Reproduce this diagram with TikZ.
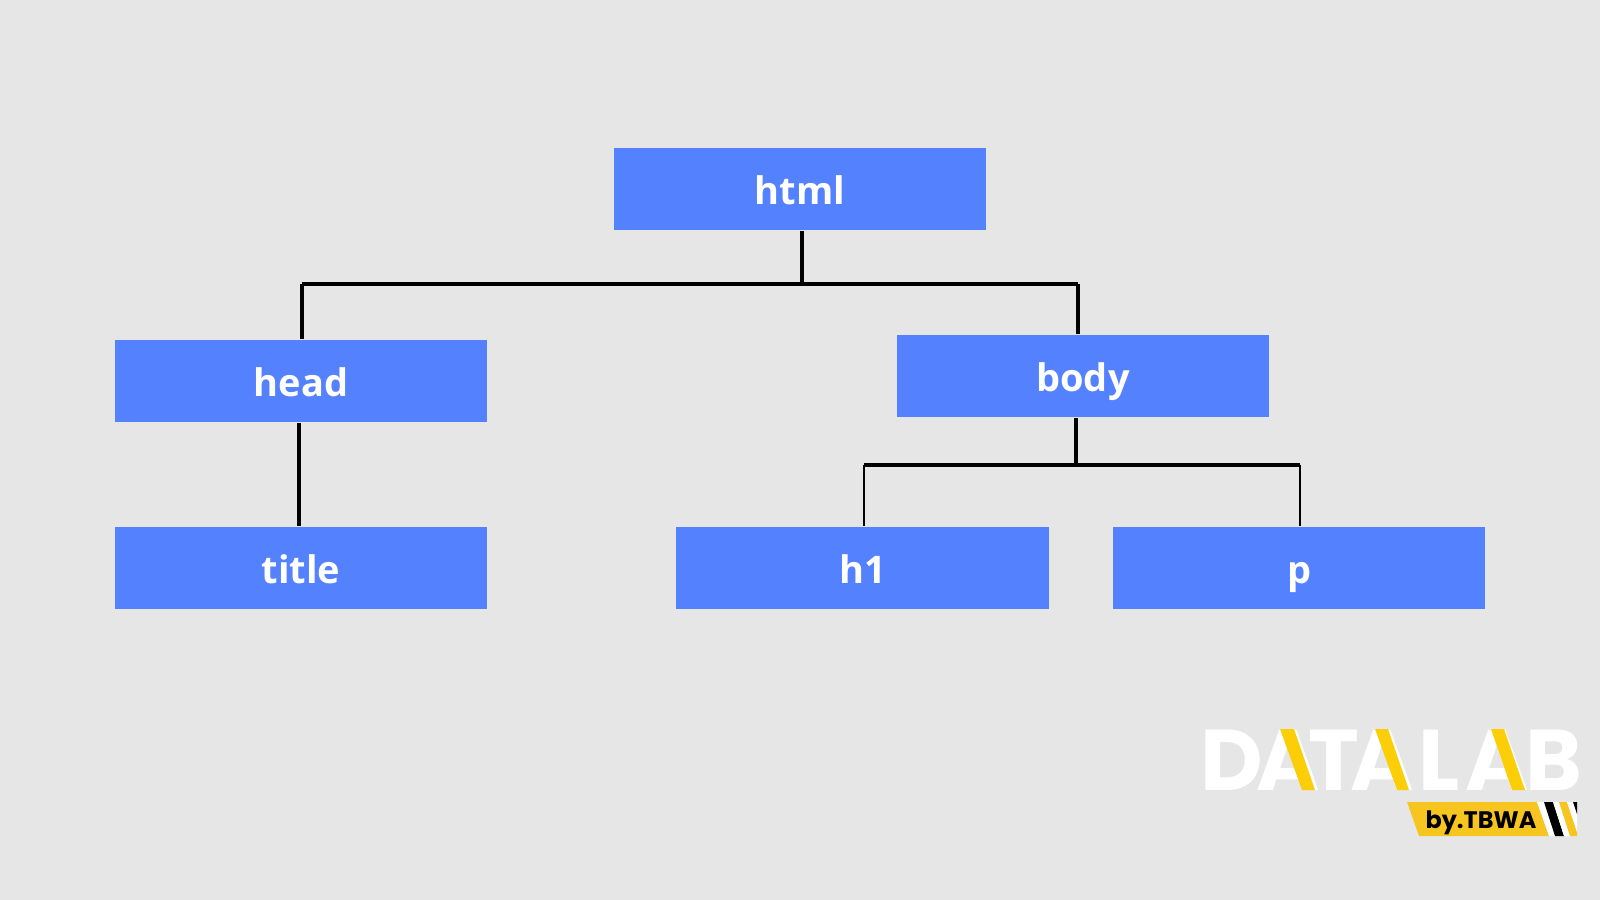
\documentclass[tikz,border=0pt]{standalone}
\usepackage{fontspec}
\setmainfont{Open Sans}
\newfontfamily\logofont{Poppins}
\definecolor{fondo}{HTML}{E6E6E6}
\definecolor{caja}{HTML}{5482FF}
\definecolor{amarillo}{HTML}{FBCE07}
\definecolor{banda}{HTML}{F7C520}
\tikzset{
  tagbox/.style={fill=caja,text=white,minimum width=3.72cm,minimum height=0.82cm,inner sep=0pt,text height=0.35cm,text depth=0.05cm,font=\fontsize{10.8}{13}\selectfont\bfseries},
  link/.style={line width=0.9pt,black},
  linkthin/.style={line width=0.7pt,black},
  logoletter/.style={text=white,inner sep=0pt,anchor=base,font=\logofont\fontsize{24.5}{25}\selectfont\bfseries}
}
\begin{document}
\begin{tikzpicture}[x=0.01cm,y=-0.01cm]
        \useasboundingbox[fill=fondo] (0,0) rectangle (1600,900);
        % Cajas
        \node[tagbox] (html) at (800,189) {html};
        \node[tagbox] (head) at (301,381) {head};
        \node[tagbox] (body) at (1083,376) {body};
        \node[tagbox] (title) at (301,568) {title};
        \node[tagbox] (hone) at (862.5,568) {h1};
        \node[tagbox] (para) at (1299,568) {p};
        % Lineas
        \coordinate (barratop) at (802,284);
        \coordinate (barraleft) at (302,284);
        \coordinate (barraright) at (1078,284);
        \coordinate (barrabody) at (1076,465);
        \coordinate (barrah) at (864,465);
        \coordinate (barrap) at (1300,465);
        \coordinate (bajada) at (299,470);
        \draw[link] (html.south -| barratop) -- (barratop);
        \draw[link] (barraleft) -- (barraright);
        \draw[link] (head.north -| barraleft) -- (barraleft);
        \draw[link] (body.north -| barraright) -- (barraright);
        \draw[link] (head.south -| bajada) -- (title.north -| bajada);
        \draw[link] (body.south -| barrabody) -- (barrabody);
        \draw[link] (barrah) -- (barrap);
        \draw[linkthin] (hone.north -| barrah) -- (barrah);
        \draw[linkthin] (para.north -| barrap) -- (barrap);
        % Logo
        \node[logoletter] (ld) at (1232,790) {D};
        \node[logoletter] (la) at (1288,790) {A};
        \node[logoletter] (lt) at (1334,790) {T};
        \node[logoletter] (lb) at (1382,790) {A};
        \node[logoletter] (ll) at (1439,790) {L};
        \node[logoletter] (lc) at (1497,790) {A};
        \node[logoletter] (le) at (1554,790) {B};
        \fill[amarillo] (1280,729) -- (1294,729) -- (1315,790) -- (1302,790) -- cycle;
        \fill[amarillo] (1375,729) -- (1388,729) -- (1409,790) -- (1397,790) -- cycle;
        \fill[amarillo] (1491,729) -- (1504,729) -- (1525,790) -- (1512,790) -- cycle;
        % Banda
        \fill[banda] (1407,802) -- (1537,802) -- (1549,836) -- (1419,836) -- cycle;
        \fill[white] (1537,802) -- (1544,802) -- (1555,836) -- (1549,836) -- cycle;
        \fill[black] (1544,802) -- (1553,802) -- (1564,836) -- (1555,836) -- cycle;
        \fill[white] (1553,802) -- (1559,802) -- (1570,836) -- (1564,836) -- cycle;
        \fill[banda] (1559,802) -- (1567,802) -- (1577,832) -- (1577,836) -- (1570,836) -- cycle;
        \fill[white] (1567,802) -- (1573,802) -- (1577,814) -- (1577,832) -- cycle;
        \fill[black] (1573,802) -- (1577,802) -- (1577,814) -- cycle;
        \node[text=black,inner sep=0pt,anchor=base,font=\logofont\fontsize{6.8}{7}\selectfont\bfseries] (tbwa) at (1481,828) {by.TBWA};
    \end{tikzpicture}
\end{document}
